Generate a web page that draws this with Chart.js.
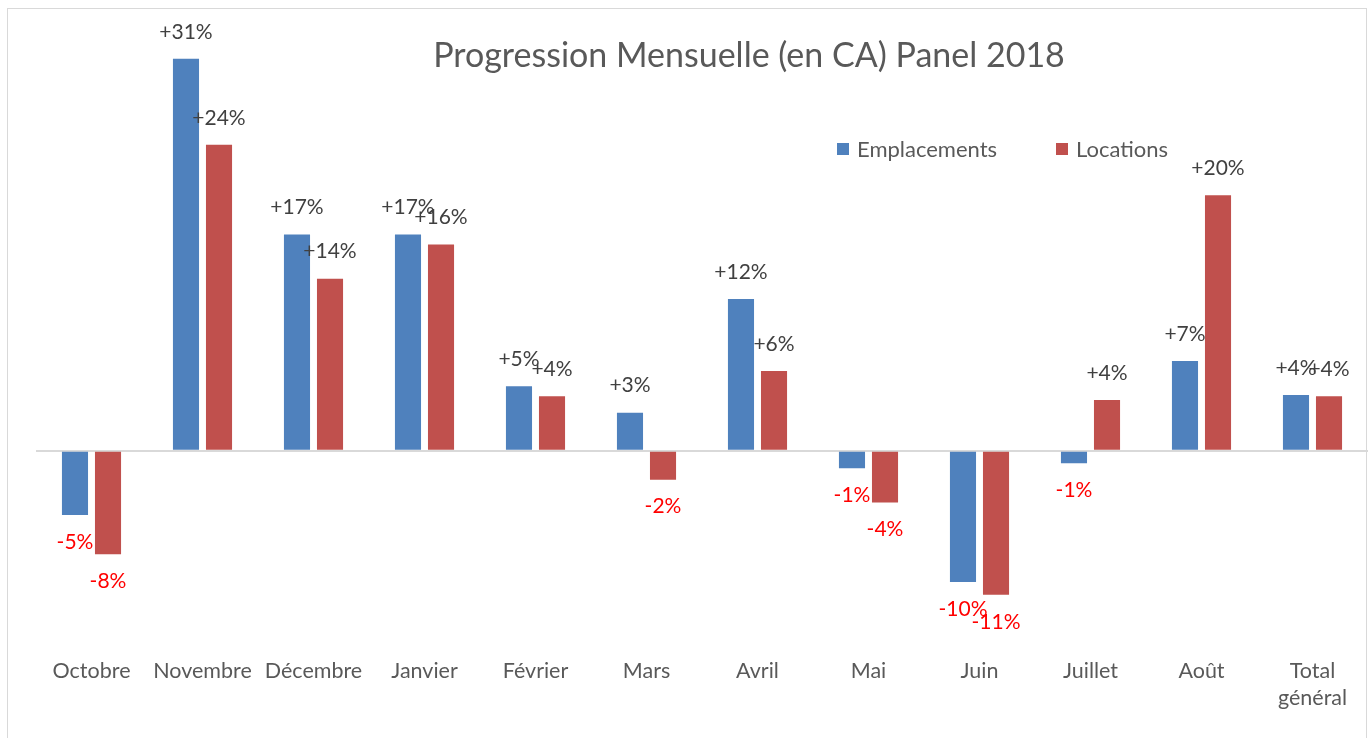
<!DOCTYPE html>
<html>
<head>
<meta charset="utf-8">
<script src="https://cdn.jsdelivr.net/npm/chart.js@4/dist/chart.umd.min.js"></script>
<style>
  html, body { margin: 0; padding: 0; background: #fff; }
  #wrap { position: relative; width: 1371px; height: 738px; }
  #frame { position: absolute; left: 7px; top: 8px; width: 1360px; height: 740px; border: 1px solid #d9d9d9; box-sizing: border-box; pointer-events: none; }
</style>
</head>
<body>
<div id="wrap">
  <canvas id="chart" width="1371" height="738"></canvas>
  <div id="frame"></div>
</div>
<script>
// ── Data ──
const MONTHS = ['Octobre', 'Novembre', 'Décembre', 'Janvier', 'Février', 'Mars', 'Avril', 'Mai', 'Juin', 'Juillet', 'Août', ['Total', 'général']];
const EMPLACEMENTS = [-5.1, 31.0, 17.1, 17.1, 5.1, 3.0, 12.0, -1.4, -10.4, -1.0, 7.1, 4.4];
const LOCATIONS    = [-8.2, 24.2, 13.6, 16.3, 4.3, -2.3, 6.3, -4.1, -11.4, 4.0, 20.2, 4.3];
const TITLE = 'Progression Mensuelle (en CA) Panel 2018';

const BLUE = '#4F81BD';
const RED  = '#C0504D';
const FONT = "Lato, 'Open Sans', sans-serif";

// ── Data labels, title and legend drawn on top ──
const decorations = {
  id: 'decorations',
  afterDatasetsDraw(chart) {
    const c = chart.ctx;
    c.save();
    c.font = '21px ' + FONT;
    c.textAlign = 'center';
    c.textBaseline = 'middle';
    chart.data.datasets.forEach((ds, i) => {
      chart.getDatasetMeta(i).data.forEach((bar, j) => {
        const v = ds.data[j];
        const txt = (v >= 0 ? '+' : '-') + Math.round(Math.abs(v)) + '%';
        c.fillStyle = v >= 0 ? '#404040' : '#FF0000';
        c.fillText(txt, bar.x, v >= 0 ? bar.y - 27 : bar.y + 27);
      });
    });

    // title
    c.font = '34px ' + FONT;
    c.fillStyle = '#595959';
    c.fillText(TITLE, 749, 56);

    // legend
    const items = [[837, 0], [1056, 1]];
    c.font = '22px ' + FONT;
    c.textAlign = 'left';
    items.forEach(([x, i]) => {
      const ds = chart.data.datasets[i];
      c.fillStyle = ds.backgroundColor;
      c.fillRect(x, 143, 12, 12);
      c.fillStyle = '#595959';
      c.fillText(ds.label, x + 20, 150);
    });
    c.restore();
  }
};

new Chart(document.getElementById('chart'), {
  type: 'bar',
  data: {
    labels: MONTHS,
    datasets: [
      { label: 'Emplacements', data: EMPLACEMENTS, backgroundColor: BLUE, borderWidth: 0 },
      { label: 'Locations', data: LOCATIONS, backgroundColor: RED, borderWidth: 0 }
    ]
  },
  options: {
    responsive: false,
    animation: false,
    categoryPercentage: 0.595,
    barPercentage: 0.79,
    layout: { padding: { left: 36, right: 3, top: 33.5, bottom: 18 } },
    scales: {
      x: {
        grid: { display: false },
        border: { display: false },
        ticks: {
          color: '#595959',
          padding: 9,
          maxRotation: 0,
          autoSkip: false,
          font: { family: FONT, size: 21.5, lineHeight: 1.25 }
        }
      },
      y: {
        min: -15,
        max: 33,
        border: { display: false },
        ticks: { display: false },
        grid: {
          drawTicks: false,
          lineWidth: 2,
          color: ctx => ctx.tick && ctx.tick.value === 0 ? '#d9d9d9' : 'rgba(0,0,0,0)'
        },
        afterFit: s => { s.width = 0; }
      }
    },
    plugins: {
      legend: { display: false },
      title: { display: false },
      tooltip: { enabled: false }
    }
  },
  plugins: [decorations]
});
</script>
</body>
</html>
